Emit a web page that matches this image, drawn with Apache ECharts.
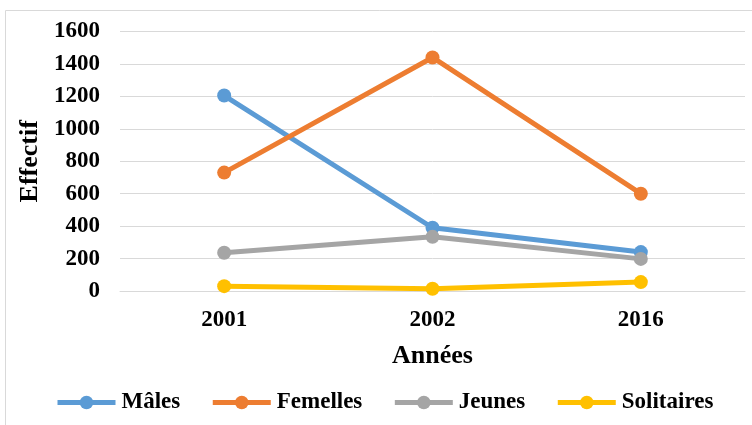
<!DOCTYPE html>
<html><head><meta charset="utf-8">
<script src="https://cdn.jsdelivr.net/npm/echarts@6/dist/echarts.min.js"></script>
<style>html,body{margin:0;padding:0;background:#fff}#c{width:752px;height:425px}</style>
</head><body><div id="c"></div>
<script>
const categories = ['2001', '2002', '2016'];
const males = [1205, 390, 240];
const femelles = [730, 1440, 600];
const jeunes = [236, 334, 198];
const solitaires = [30, 14, 55];
const yTicks = [0, 200, 400, 600, 800, 1000, 1200, 1400, 1600];

const font = 'Liberation Serif, Times New Roman, serif';
const chart = echarts.init(document.getElementById('c'), null, {renderer: 'canvas'});
function mk(name, data, color) {
  return {
    name, type: 'line', data,
    symbol: 'circle', symbolSize: 14,
    lineStyle: {width: 5, color},
    itemStyle: {color},
    animation: false
  };
}
chart.setOption({
  animation: false,
  graphic: [{type: 'rect', shape: {x: 5.5, y: 10.5, width: 800, height: 500}, style: {fill: 'none', stroke: '#d9d9d9', lineWidth: 1}, silent: true}],
  grid: {left: 120, right: 7, top: 31.5, bottom: 134, containLabel: false},
  legend: {
    left: 50, top: 386,
    itemWidth: 58, itemHeight: 17, itemGap: 30,
    lineStyle: {width: 5},
    textStyle: {fontFamily: font, fontWeight: 'bold', fontSize: 23, color: '#000', padding: [0, 0, 0, 1]},
    data: ['Mâles', 'Femelles', 'Jeunes', 'Solitaires']
  },
  xAxis: {
    type: 'category', data: categories, boundaryGap: true,
    name: 'Années', nameLocation: 'middle', nameGap: 52,
    nameTextStyle: {fontFamily: font, fontWeight: 'bold', fontSize: 26, color: '#000'},
    axisLine: {lineStyle: {color: '#d9d9d9', width: 1}},
    axisTick: {show: false},
    axisLabel: {fontFamily: font, fontWeight: 'bold', fontSize: 23, color: '#000', margin: 18}
  },
  yAxis: {
    type: 'value', min: 0, max: 1600, interval: 200,
    name: 'Effectif', nameLocation: 'middle', nameGap: 77, nameRotate: 90,
    nameTextStyle: {fontFamily: font, fontWeight: 'bold', fontSize: 26, color: '#000'},
    axisLine: {show: false}, axisTick: {show: false},
    splitLine: {lineStyle: {color: '#d9d9d9', width: 1}},
    axisLabel: {fontFamily: font, fontWeight: 'bold', fontSize: 23, color: '#000', margin: 20,
      formatter: v => yTicks.includes(v) ? String(v) : ''}
  },
  series: [
    mk('Mâles', males, '#5B9BD5'),
    mk('Femelles', femelles, '#ED7D31'),
    mk('Jeunes', jeunes, '#A5A5A5'),
    mk('Solitaires', solitaires, '#FFC000')
  ]
});
</script></body></html>
